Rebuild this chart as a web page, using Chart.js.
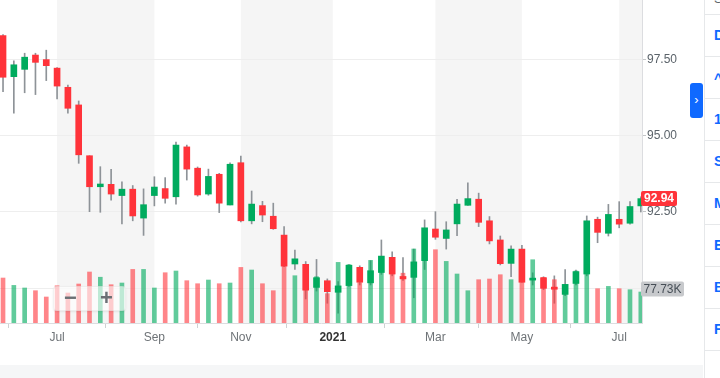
<!DOCTYPE html>
<html>
<head>
<meta charset="utf-8">
<script src="https://cdn.jsdelivr.net/npm/chart.js@4.4.0/dist/chart.umd.min.js"></script>
<style>
  body { margin: 0; width: 720px; height: 378px; overflow: hidden; background: #fff; position: relative;
         font-family: Arial, "Liberation Sans", sans-serif; }
  #chart { position: absolute; left: 0; top: 0; }
  .foot { position: absolute; left: 0; top: 365px; width: 703px; height: 13px; background: #f5f6f7; }
  .side { position: absolute; left: 704px; top: 0; width: 16px; height: 378px; border-left: 1px solid #e6e8ea; }
  .side .k { position: absolute; left: 9px; font-weight: bold; font-size: 14px; line-height: 16px; color: #0f69ff; }
  .side .s { position: absolute; left: 0; width: 16px; height: 1px; background: #e6e8ea; }
  .btn { position: absolute; left: 690px; top: 83px; width: 13px; height: 35px; background: #0f69ff;
         border-radius: 3px; color: #fff; font-size: 13px; text-align: center; line-height: 34px; }
  .zoomctl { position: absolute; left: 53px; top: 286px; width: 71px; height: 23px; border-radius: 4px;
             background: rgba(255,255,255,0.6); border: 1px solid rgba(0,0,0,0.05);
             box-shadow: 0 1px 2px rgba(0,0,0,0.08); color: #6b7075; font-weight: bold; font-size: 22px; }
  .zoomctl span { position: absolute; top: -2px; line-height: 26px; }
</style>
</head>
<body>
<canvas id="chart" width="690" height="365"></canvas>
<div class="foot"></div>
<div class="btn">&#8250;</div>
<div class="zoomctl"><span style="left:10px">&minus;</span><span style="left:46px">+</span></div>
<div class="side">
  <div class="k" style="top:-9px;color:#5b636a;font-weight:normal;font-size:13px">S</div>
  <div class="s" style="top:14px"></div>
  <div class="k" style="top:27px">D</div>
  <div class="s" style="top:56px"></div>
  <div class="k" style="top:71px">^</div>
  <div class="s" style="top:98px"></div>
  <div class="k" style="top:111px">1</div>
  <div class="s" style="top:140px"></div>
  <div class="k" style="top:153px">S</div>
  <div class="s" style="top:182px"></div>
  <div class="k" style="top:195px">M</div>
  <div class="s" style="top:224px"></div>
  <div class="k" style="top:237px">E</div>
  <div class="s" style="top:266px"></div>
  <div class="k" style="top:279px">B</div>
  <div class="s" style="top:308px"></div>
  <div class="k" style="top:321px">F</div>
  <div class="s" style="top:350px"></div>
</div>
<script>
// weekly bars
const weeks = ['2020-05-25','2020-06-01','2020-06-08','2020-06-15','2020-06-22','2020-06-29','2020-07-06','2020-07-13',
  '2020-07-20','2020-07-27','2020-08-03','2020-08-10','2020-08-17','2020-08-24','2020-08-31','2020-09-07','2020-09-14',
  '2020-09-21','2020-09-28','2020-10-05','2020-10-12','2020-10-19','2020-10-26','2020-11-02','2020-11-09','2020-11-16',
  '2020-11-23','2020-11-30','2020-12-07','2020-12-14','2020-12-21','2020-12-28','2021-01-04','2021-01-11','2021-01-18',
  '2021-01-25','2021-02-01','2021-02-08','2021-02-15','2021-02-22','2021-03-01','2021-03-08','2021-03-15','2021-03-22',
  '2021-03-29','2021-04-05','2021-04-12','2021-04-19','2021-04-26','2021-05-03','2021-05-10','2021-05-17','2021-05-24',
  '2021-05-31','2021-06-07','2021-06-14','2021-06-21','2021-06-28','2021-07-05','2021-07-12'];

const open  = [98.30,96.95,97.19,97.66,97.51,97.23,96.60,96.02,94.35,93.33,93.41,93.04,93.25,92.30,93.04,93.27,93.00,94.64,93.94,93.09,
               93.74,92.73,94.12,92.21,92.71,92.36,91.74,90.79,90.78,90.02,90.24,89.86,90.08,90.68,90.17,90.51,91.01,90.38,90.35,90.90,
               91.94,91.63,92.11,92.72,92.92,92.21,91.58,90.81,91.28,90.26,90.34,90.03,89.79,90.15,90.46,92.26,91.80,92.26,92.13,92.70];
const high  = [98.33,97.47,97.72,97.72,97.82,97.25,96.67,96.15,94.35,93.99,93.90,93.49,93.37,93.26,93.66,93.63,94.80,94.70,93.98,93.91,
               93.77,94.12,94.34,93.19,92.85,92.79,92.02,91.25,90.87,90.94,90.30,90.21,90.77,90.73,90.90,91.58,91.19,91.00,91.28,92.24,
               92.51,92.18,92.92,93.46,93.12,92.35,91.71,91.39,91.40,90.50,90.37,90.40,90.61,90.59,92.37,92.33,92.75,92.84,92.84,93.00];
const low   = [96.46,95.75,96.42,96.36,96.82,96.22,95.75,94.10,92.51,92.49,92.89,92.11,92.21,91.73,92.70,92.79,92.76,93.55,93.02,93.05,
               92.48,92.73,92.17,92.11,92.18,91.93,90.70,90.61,89.64,89.90,89.50,89.17,90.05,90.10,90.10,90.45,90.40,90.25,89.68,90.61,
               91.60,91.28,91.72,92.72,92.02,91.45,90.76,90.37,90.19,90.10,89.95,89.50,89.75,90.10,90.40,91.49,91.71,91.98,92.10,92.50];
const close = [96.93,97.34,97.59,97.42,97.31,96.64,95.91,94.38,93.33,93.42,93.09,93.25,92.37,92.74,93.32,92.95,94.70,93.91,93.06,93.67,
               92.79,94.07,92.21,92.76,92.40,91.95,90.72,90.96,89.93,90.34,89.88,90.07,90.75,90.19,90.57,91.05,90.46,90.30,90.86,91.98,
               91.67,91.91,92.76,92.94,92.16,91.55,90.80,91.28,90.19,90.30,89.99,89.96,90.12,90.54,92.21,91.83,92.42,92.10,92.68,92.94];
// volume in thousands
const volume = [112.8,94.3,87.8,81.0,65.2,93.5,75.2,97.8,127.9,114.8,96.0,100.3,134.4,134.4,87.8,126.1,130.4,106.1,98.5,107.8,
                98.5,100.3,139.4,132.9,98.5,81.0,142.4,118.6,126.1,116.1,73.5,152.0,146.2,101.1,157.0,127.4,123.6,124.9,185.6,185.6,
                183.8,154.5,122.9,81.0,108.6,110.3,121.1,108.6,137.9,158.7,114.3,108.6,96.0,130.4,146.2,86.0,91.8,86.0,83.5,77.73];

const priceTicks = [90, 92.5, 95, 97.5];
const monthTickPos = [5, 14, 22, 30.5, 40, 48, 57];
const monthTickLabels = ['Jul', 'Sep', 'Nov', '2021', 'Mar', 'May', 'Jul'];

const RED = '#ff333a', GREEN = '#00ab5e';
const up = close.map((c, i) => c >= open[i]);
const FONT = 'Arial, "Liberation Sans", sans-serif';

const bands = {
  id: 'bands',
  beforeDraw(chart) {
    const { ctx, chartArea: a, scales: { x } } = chart;
    ctx.save();
    ctx.fillStyle = '#f5f5f5';
    for (let i = 0; i < monthTickPos.length; i += 2) {
      const x0 = x.getPixelForValue(monthTickPos[i]);
      const x1 = i + 1 < monthTickPos.length ? x.getPixelForValue(monthTickPos[i + 1]) : a.right;
      ctx.fillRect(x0, a.top, x1 - x0, a.bottom - a.top);
    }
    ctx.restore();
  }
};

function tag(ctx, text, left, cy, w, bg, fg, weight) {
  const h = 15;
  ctx.fillStyle = bg;
  ctx.beginPath();
  ctx.roundRect(left, cy - h / 2, w, h, 2);
  ctx.fill();
  ctx.fillStyle = fg;
  ctx.font = weight + ' 12px ' + FONT;
  ctx.textAlign = 'center';
  ctx.textBaseline = 'middle';
  ctx.fillText(text, left + w / 2, cy + 0.5);
}

const lastTags = {
  id: 'lastTags',
  afterDraw(chart) {
    const { ctx, chartArea: a, scales: { y, yV } } = chart;
    const n = close.length - 1;
    ctx.save();
    tag(ctx, volume[n].toFixed(2) + 'K', a.right - 1, yV.getPixelForValue(volume[n]) - 3, 43, '#c7c9cc', '#464e56', 'normal');
    tag(ctx, close[n].toFixed(2), a.right - 1, y.getPixelForValue(close[n]), 36, RED, '#fff', 'bold');
    ctx.restore();
  }
};

new Chart(document.getElementById('chart'), {
  type: 'bar',
  data: {
    labels: weeks,
    datasets: [
      {
        label: 'Volume',
        yAxisID: 'yV',
        data: volume.map((v, i) => ({ x: i, y: v })),
        backgroundColor: up.map(u => u ? 'rgba(0,171,94,0.62)' : 'rgba(255,51,58,0.6)'),
        barThickness: 4,
        grouped: false,
        order: 0
      },
      {
        label: 'Body',
        yAxisID: 'y',
        data: open.map((o, i) => ({ x: i, y: [o, close[i]] })),
        backgroundColor: up.map(u => u ? GREEN : RED),
        barThickness: 6,
        minBarLength: 2,
        grouped: false,
        order: 1
      },
      {
        label: 'Wick',
        yAxisID: 'y',
        data: low.map((l, i) => ({ x: i, y: [l, high[i]] })),
        backgroundColor: '#8e9398',
        barThickness: 1,
        grouped: false,
        order: 2
      }
    ]
  },
  options: {
    responsive: false,
    animation: false,
    devicePixelRatio: 1,
    layout: { padding: 0 },
    plugins: { legend: { display: false }, tooltip: { enabled: false } },
    scales: {
      x: {
        type: 'linear',
        min: -0.28,
        max: 59.11,
        offset: false,
        afterBuildTicks: s => { s.ticks = monthTickPos.map(v => ({ value: v })); },
        afterFit: s => { s.height = 42; s.paddingLeft = 0; s.paddingRight = 0; },
        grid: { drawOnChartArea: false, drawTicks: true, tickLength: 5, tickColor: '#cfd1d3' },
        border: { color: '#dcdde0' },
        ticks: {
          autoSkip: false,
          maxRotation: 0,
          padding: 2,
          callback: v => monthTickLabels[monthTickPos.indexOf(v)],
          color: c => c.tick && c.tick.value === 30.5 ? '#333' : '#6e7377',
          font: c => ({ family: FONT, size: 12, weight: c.tick && c.tick.value === 30.5 ? 'bold' : 'normal' })
        }
      },
      y: {
        position: 'right',
        min: 88.85,
        max: 99.47,
        afterBuildTicks: s => { s.ticks = priceTicks.map(v => ({ value: v })); },
        afterFit: s => { s.width = 48; s.paddingTop = 0; s.paddingBottom = 0; },
        grid: { color: '#eeeeee', tickLength: 4, tickColor: '#c4c6c8' },
        border: { color: '#dcdde0' },
        ticks: {
          padding: 1,
          color: '#5b636a',
          font: { family: FONT, size: 12 },
          callback: v => v.toFixed(2)
        }
      },
      yV: {
        display: false,
        min: 0,
        max: 810,
        grid: { display: false }
      }
    }
  },
  plugins: [bands, lastTags]
});
</script>
</body>
</html>
